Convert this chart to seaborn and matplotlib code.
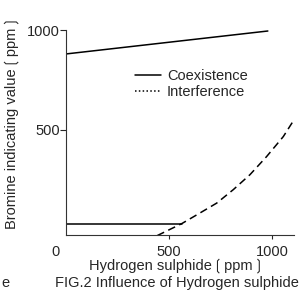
import numpy as np
import pandas as pd
import seaborn as sns
import matplotlib
matplotlib.use("Agg")
from matplotlib import pyplot as plt
from matplotlib.lines import Line2D
import matplotlib.transforms as mtransforms

# data
coex_hi_x = [0, 980]
coex_hi_y = [880, 995]
coex_lo_x = [0, 562]
coex_lo_y = [30, 30]
interf_x = [443, 562, 650, 732, 812, 893, 974, 1055, 1107]
interf_y = [-30, 30, 83, 133, 200, 275, 366, 466, 550]
xticks = [0, 500, 1000]
yticks = [500, 1000]

sns.set_style("ticks")
plt.rcParams['font.family'] = ['Liberation Sans', 'DejaVu Sans', 'Noto Sans CJK JP']
plt.rcParams['font.size'] = 10.5

fig = plt.figure(figsize=(3.08, 2.92), dpi=100)
ax = fig.add_axes([66/308, 1-235/292, (294-66)/308, (235-30)/292])

lw = 1.1
sns.lineplot(x=coex_hi_x, y=coex_hi_y, ax=ax, color='black', lw=lw, sort=False, estimator=None)
sns.lineplot(x=coex_lo_x, y=coex_lo_y, ax=ax, color='black', lw=lw, sort=False, estimator=None)
sns.lineplot(x=interf_x, y=interf_y, ax=ax, color='black', lw=lw, sort=False, estimator=None,
             linestyle=(0, (5, 3)))

ax.set_xlim(0, 1107)
ax.set_ylim(-27, 1000)
sns.despine(ax=ax)
for s in ['left', 'bottom']:
    ax.spines[s].set_linewidth(0.8)
    ax.spines[s].set_color('#333333')

ax.set_xticks(xticks)
ax.set_xticklabels([str(t) for t in xticks])
ax.set_yticks(yticks)
ax.set_yticklabels([str(t) for t in yticks])
ax.tick_params(axis='y', length=4, width=0.8, pad=0.5, labelsize=10.5)
ax.tick_params(axis='x', length=3, width=0.8, pad=4, labelsize=10.5)
# origin label sits left of the corner, no tick mark there
ax.xaxis.get_major_ticks()[0].tick1line.set_visible(False)
lab0 = ax.get_xticklabels()[0]
lab0.set_transform(lab0.get_transform() + mtransforms.ScaledTranslation(-10/100, 0, fig.dpi_scale_trans))
ax.set_xlabel('')
ax.set_ylabel('')

handles = [Line2D([], [], color='black', lw=lw),
           Line2D([], [], color='black', lw=lw, linestyle=(0, (1, 1.5)))]
ax.legend(handles, ['Coexistence', 'Interference'], loc='upper left',
          bbox_to_anchor=(135/308, 1-69/292), bbox_transform=fig.transFigure,
          frameon=False, borderpad=0, borderaxespad=0, handlelength=1.8,
          handletextpad=0.4, labelspacing=0.15, fontsize=10.5)

fig.text(13/308, 1-122/292, 'Bromine indicating value❲ppm❳', rotation=90,
         ha='center', va='center', fontsize=10.5)
fig.text(177/308, 1-267/292, 'Hydrogen sulphide❲ppm❳', ha='center', va='center', fontsize=10.5)
fig.text(55/308, 1-283/292, 'FIG.2 Influence of Hydrogen sulphide', ha='left', va='center', fontsize=10.5)
fig.text(1/308, 1-283/292, 'e', ha='left', va='center', fontsize=10.5)

fig.savefig('out.png', dpi=100)
